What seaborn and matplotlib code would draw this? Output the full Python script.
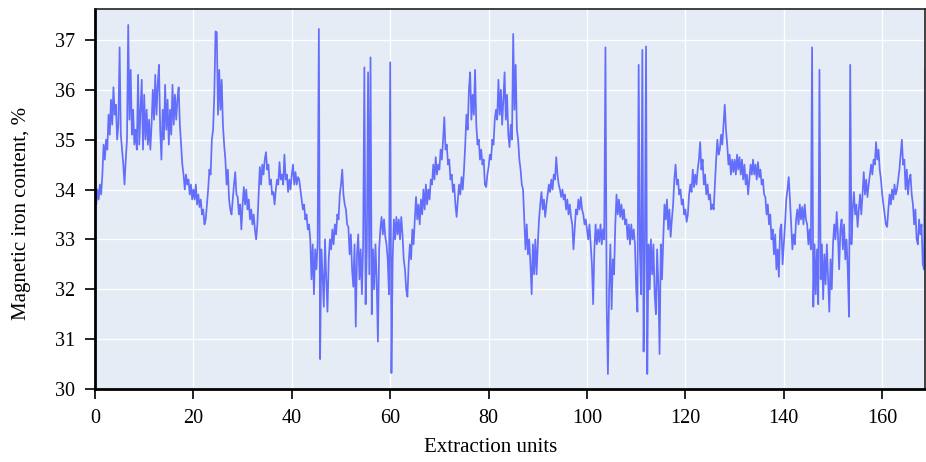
import numpy as np
import pandas as pd
import matplotlib
matplotlib.use("Agg")
import matplotlib.pyplot as plt
import seaborn as sns

seg_000 = [33.8, 33.7, 34.0, 33.8, 34.1, 33.9, 34.3, 34.9, 34.6, 35.0, 34.8, 35.5, 35.1, 35.8, 35.3, 36.05, 35.5, 35.7, 35.0, 35.3,
           36.85, 35.1, 34.8, 34.5, 34.1, 34.6, 35.0, 37.3, 35.4, 36.4, 35.1, 35.6, 34.9, 35.2, 34.8, 36.3, 34.9, 35.6, 36.2, 34.8]
seg_010 = [35.9, 35.0, 35.6, 34.9, 35.4, 34.8, 35.3, 36.0, 35.4, 36.3, 35.5, 36.1, 36.5, 35.2, 34.6, 35.6, 35.0, 36.1, 35.2, 35.8,
           34.9, 35.6, 35.1, 36.1, 35.3, 35.9, 35.4, 35.8, 36.05, 35.3, 34.9, 34.5, 34.3, 34.0, 34.3, 34.1, 34.2, 33.9, 34.1, 33.8]
seg_020 = [34.0, 33.8, 34.1, 33.7, 33.9, 33.65, 33.8, 33.5, 33.6, 33.3, 33.4, 33.7, 34.0, 34.4, 34.3, 35.0, 35.2, 35.9, 37.17, 37.15,
           35.5, 36.4, 35.6, 36.2, 35.3, 34.9, 34.6, 34.1, 34.4, 33.8, 33.6, 33.5, 33.8, 34.1, 34.35, 33.9, 33.85, 33.5, 33.7, 33.2]
seg_030 = [33.7, 34.05, 33.7, 34.0, 33.6, 33.8, 33.4, 33.6, 33.3, 33.5, 33.2, 33.0, 33.3, 33.9, 34.45, 34.1, 34.5, 34.3, 34.6, 34.75,
           34.4, 34.5, 34.1, 34.2, 33.9, 33.95, 33.7, 34.0, 34.2, 34.1, 34.55, 34.2, 34.3, 34.1, 34.7, 34.2, 34.3, 33.95, 34.2, 34.0]
seg_040 = [34.3, 34.5, 34.1, 34.35, 34.1, 34.25, 34.2, 34.0, 33.8, 33.6, 33.7, 33.4, 33.5, 33.2, 33.3, 33.0, 32.2, 32.9, 31.9, 32.8,
           32.4, 32.9, 37.22, 30.6, 32.8, 32.3, 31.65, 33.0, 32.2, 31.55, 32.6, 33.0, 32.8, 33.2, 32.9, 33.3, 33.1, 33.5, 33.4, 33.9]
seg_050 = [34.1, 34.4, 33.9, 33.7, 33.6, 33.3, 33.25, 32.7, 33.1, 32.4, 32.05, 32.9, 31.25, 32.7, 33.1, 32.2, 32.8, 31.9, 32.9, 36.45,
           31.7, 32.8, 36.35, 32.3, 36.65, 31.5, 32.8, 32.0, 32.9, 32.2, 30.95, 32.8, 33.2, 33.45, 33.1, 33.4, 33.05, 32.9, 32.6, 31.9]
seg_060 = [36.55, 30.32, 32.6, 33.4, 33.0, 33.45, 33.1, 33.4, 33.0, 33.45, 33.1, 32.6, 32.4, 32.0, 31.85, 32.5, 32.9, 32.6, 33.2, 32.9,
           33.4, 33.85, 33.4, 33.7, 33.3, 33.8, 33.5, 34.0, 33.6, 34.1, 33.7, 34.0, 33.8, 34.2, 34.1, 34.5, 34.2, 34.65, 34.3, 34.5]
seg_070 = [34.4, 34.8, 34.6, 35.0, 35.45, 34.8, 34.9, 34.5, 34.6, 34.2, 34.3, 33.95, 34.1, 33.7, 33.45, 33.8, 34.1, 33.9, 34.25, 34.0,
           34.4, 34.9, 35.5, 35.2, 36.0, 36.35, 35.4, 35.9, 35.5, 36.4, 35.3, 34.9, 35.0, 34.6, 34.8, 34.5, 34.6, 34.1, 34.05, 34.3]
seg_080 = [34.45, 34.7, 34.6, 35.0, 34.9, 35.4, 35.6, 35.4, 36.2, 35.5, 36.0, 35.3, 35.8, 36.35, 35.4, 35.9, 35.1, 34.85, 35.3, 35.0,
           37.12, 35.6, 36.5, 35.2, 35.0, 34.6, 34.4, 34.1, 34.0, 33.4, 32.8, 33.3, 32.7, 33.0, 32.5, 31.9, 32.9, 32.3, 33.0, 32.3]
seg_090 = [32.9, 33.4, 33.7, 33.95, 33.6, 33.8, 33.45, 33.7, 33.9, 34.1, 33.95, 34.2, 34.0, 34.3, 34.2, 34.65, 34.3, 34.1, 34.0, 33.85,
           34.0, 33.8, 33.9, 33.6, 33.8, 33.5, 33.7, 33.45, 33.3, 32.8, 33.2, 33.6, 33.5, 33.8, 33.6, 33.85, 33.6, 33.5, 33.3, 33.4]
seg_100 = [33.2, 33.0, 33.3, 32.9, 32.5, 31.7, 32.8, 33.3, 32.9, 33.2, 32.95, 33.3, 32.9, 33.2, 33.0, 36.85, 31.7, 30.3, 32.0, 32.9,
           31.6, 32.6, 32.3, 33.3, 33.9, 33.5, 33.8, 33.45, 33.7, 33.4, 33.6, 33.3, 33.4, 33.0, 33.3, 32.9, 33.3, 33.0, 33.2, 32.9]
seg_110 = [32.0, 31.55, 36.5, 32.8, 31.9, 36.8, 30.75, 32.7, 36.87, 30.3, 32.9, 32.0, 33.0, 32.3, 32.9, 31.9, 31.5, 32.8, 32.1, 30.7,
           32.9, 32.2, 33.0, 33.7, 33.4, 33.8, 33.2, 33.6, 33.05, 33.4, 33.7, 34.2, 34.5, 34.1, 34.2, 33.9, 34.0, 33.7, 33.8, 33.5]
seg_120 = [33.6, 33.35, 33.5, 33.9, 34.1, 33.95, 34.4, 34.05, 34.3, 34.1, 34.4, 34.6, 34.95, 34.4, 34.6, 34.1, 34.3, 33.9, 34.1, 33.8,
           33.9, 33.6, 33.7, 33.6, 34.1, 34.6, 35.0, 34.7, 34.8, 35.1, 34.9, 35.3, 35.7, 35.2, 34.9, 34.5, 34.7, 34.3, 34.6, 34.35]
seg_130 = [34.6, 34.3, 34.7, 34.4, 34.65, 34.3, 34.6, 34.2, 34.5, 34.1, 34.3, 33.9, 34.2, 34.5, 34.3, 34.6, 34.3, 34.5, 34.2, 34.55,
           34.25, 34.4, 34.1, 34.2, 33.9, 33.85, 33.5, 33.7, 33.3, 33.5, 33.0, 33.2, 32.7, 33.1, 32.4, 32.8, 32.25, 33.2, 33.3, 32.5]
seg_140 = [32.9, 33.3, 33.8, 34.0, 34.25, 33.8, 33.3, 32.8, 33.1, 32.9, 33.4, 33.6, 33.3, 33.7, 33.4, 33.65, 33.3, 33.7, 33.4, 33.3,
           32.9, 33.2, 32.8, 36.85, 31.65, 32.9, 31.9, 32.8, 31.7, 36.4, 32.2, 32.9, 31.8, 32.7, 32.1, 32.9, 32.2, 31.55, 32.6, 32.0]
seg_150 = [32.9, 33.3, 33.0, 33.55, 33.1, 32.4, 33.2, 33.4, 32.8, 33.3, 32.6, 33.0, 32.4, 31.45, 36.5, 32.9, 33.6, 33.95, 33.5, 33.7,
           33.25, 33.6, 33.9, 33.5, 33.9, 34.35, 33.9, 34.2, 33.85, 34.1, 34.3, 34.5, 34.3, 34.6, 34.5, 34.95, 34.6, 34.8, 34.4, 34.2]
seg_160 = [33.9, 33.7, 33.5, 33.3, 33.25, 33.6, 33.9, 33.7, 34.0, 33.8, 34.1, 33.9, 34.0, 34.2, 34.4, 34.7, 35.0, 34.5, 34.6, 34.0,
           34.4, 33.9, 34.2, 34.3, 33.9, 33.7, 33.3, 33.6, 33.0, 32.9, 33.4, 33.1, 33.3, 32.5, 32.4, 36.4, 31.75]

STEP = 0.25
iron = (seg_000 + seg_010 + seg_020 + seg_030 + seg_040 + seg_050 + seg_060 + seg_070 + seg_080
        + seg_090 + seg_100 + seg_110 + seg_120 + seg_130 + seg_140 + seg_150 + seg_160)
units = np.arange(len(iron)) * STEP

x_ticks = [0, 20, 40, 60, 80, 100, 120, 140, 160]
y_ticks = [30, 31, 32, 33, 34, 35, 36, 37]

df = pd.DataFrame({"Extraction units": units, "Magnetic iron content, %": iron})

sns.set_theme(style="darkgrid")
plt.rcParams["font.family"] = ["Liberation Serif", "DejaVu Serif"]

fig = plt.figure(figsize=(9.26, 4.62), dpi=100)
ax = fig.add_axes([95 / 926, 1 - 389 / 462, 830 / 926, 380 / 462])
ax.set_facecolor("#E5ECF6")

sns.lineplot(data=df, x="Extraction units", y="Magnetic iron content, %", ax=ax,
             color="#636EFA", linewidth=1.25, estimator=None, sort=False)

ax.set_xlim(0, 168.7)
ax.set_ylim(30, 37.62)
ax.set_xticks(x_ticks)
ax.set_yticks(y_ticks)
ax.grid(True, color="white", linewidth=1.0)
ax.set_axisbelow(True)

for side in ["left", "bottom"]:
    ax.spines[side].set_visible(True)
    ax.spines[side].set_color("black")
    ax.spines[side].set_linewidth(2.0)
for side in ["top", "right"]:
    ax.spines[side].set_visible(True)
    ax.spines[side].set_color("#222222")
    ax.spines[side].set_linewidth(1.2)

ax.tick_params(axis="both", which="major", direction="out", length=7, width=1.2,
               color="black", labelsize=14.5, labelcolor="black",
               bottom=True, left=True)
ax.tick_params(axis="x", pad=7.5)
ax.tick_params(axis="y", pad=7.5)
ax.set_xlabel("Extraction units", fontsize=15, color="black")
ax.set_ylabel("Magnetic iron content, %", fontsize=15, color="black")
ax.xaxis.set_label_coords(0.4765, -0.128)
ax.yaxis.set_label_coords(-0.077, 0.462)

fig.savefig("out.png", dpi=100)
